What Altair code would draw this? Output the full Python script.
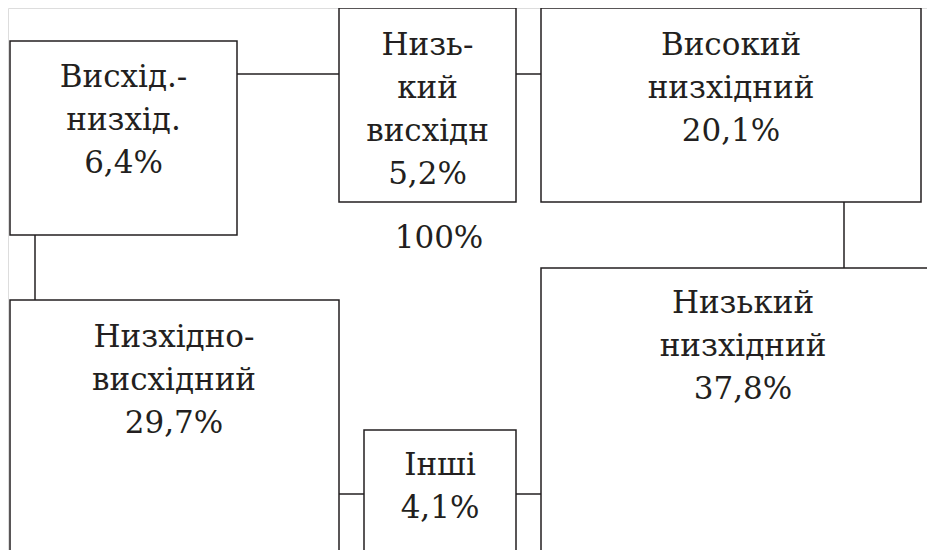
import altair as alt
import pandas as pd

# ---- data ----
names = [
    "Висхід.-\nнизхід.",
    "Низь-\nкий\nвисхідн",
    "Високий\nнизхідний",
    "Низхідно-\nвисхідний",
    "Низький\nнизхідний",
    "Інші",
]
shares = [6.4, 5.2, 20.1, 29.7, 37.8, 4.1]
total_label = "100%"

# ---- layout (diagram coordinates, px-like units) ----
box_x0 = [10, 339, 541, 10, 541, 364]
box_x1 = [237, 516, 921, 339, 980, 516]
box_y0 = [41, 8, 8, 300, 268, 430]
box_y1 = [235, 202, 202, 620, 620, 620]
box_clip = [False, False, False, True, True, True]
text_x = [123.5, 427.5, 731, 174, 743, 440]
text_y = [87, 55, 55, 347, 313, 475]

link_x0 = [237, 516, 844, 35, 339, 516]
link_x1 = [339, 541, 844, 35, 364, 541]
link_y0 = [74, 74, 202, 235, 494, 494]
link_y1 = [74, 74, 268, 300, 494, 494]

total_x, total_y = 439, 248

INK = "#231f20"
FONT = "DejaVu Serif"
FSIZE = 31


def fmt(v):
    return f"{v:.1f}".replace(".", ",") + "%"


boxes = pd.DataFrame({
    "x0": box_x0, "x1": box_x1, "y0": box_y0, "y1": box_y1,
    "clip": box_clip,
    "label": [f"{n}\n{fmt(v)}" for n, v in zip(names, shares)],
    "tx": text_x, "ty": text_y,
})
links = pd.DataFrame({"x0": link_x0, "x1": link_x1, "y0": link_y0, "y1": link_y1})
total = pd.DataFrame({"tx": [total_x], "ty": [total_y], "label": [total_label]})

xs = alt.Scale(domain=[8, 927], nice=False, zero=False)
ys = alt.Scale(domain=[8, 550], nice=False, zero=False, reverse=True)
noax = None


def rects(df, clip):
    return alt.Chart(df).mark_rect(
        fill="white", stroke=INK, strokeWidth=1.5, clip=clip
    ).encode(
        x=alt.X("x0:Q", scale=xs, axis=noax),
        x2="x1:Q",
        y=alt.Y("y0:Q", scale=ys, axis=noax),
        y2="y1:Q",
    )


rect_in = rects(boxes[~boxes["clip"]], False)
rect_out = rects(boxes[boxes["clip"]], True)

rules = alt.Chart(links).mark_rule(color=INK, strokeWidth=1.5).encode(
    x=alt.X("x0:Q", scale=xs, axis=noax),
    x2="x1:Q",
    y=alt.Y("y0:Q", scale=ys, axis=noax),
    y2="y1:Q",
)

texts = alt.Chart(boxes).mark_text(
    font=FONT, fontSize=FSIZE, lineHeight=43, lineBreak="\n",
    align="center", baseline="alphabetic", color=INK,
).encode(
    x=alt.X("tx:Q", scale=xs, axis=noax),
    y=alt.Y("ty:Q", scale=ys, axis=noax),
    text="label:N",
)

total_text = alt.Chart(total).mark_text(
    font=FONT, fontSize=FSIZE, align="center", baseline="alphabetic", color=INK,
).encode(
    x=alt.X("tx:Q", scale=xs, axis=noax),
    y=alt.Y("ty:Q", scale=ys, axis=noax),
    text="label:N",
)

chart = alt.layer(rules, rect_in, rect_out, texts, total_text).properties(
    width=919, height=542,
    autosize=alt.AutoSizeParams(type="none"),
    padding=0,
).configure_view(stroke=None).configure(background="white")

chart.save("out.html", embed_options={"renderer": "svg", "actions": False})
